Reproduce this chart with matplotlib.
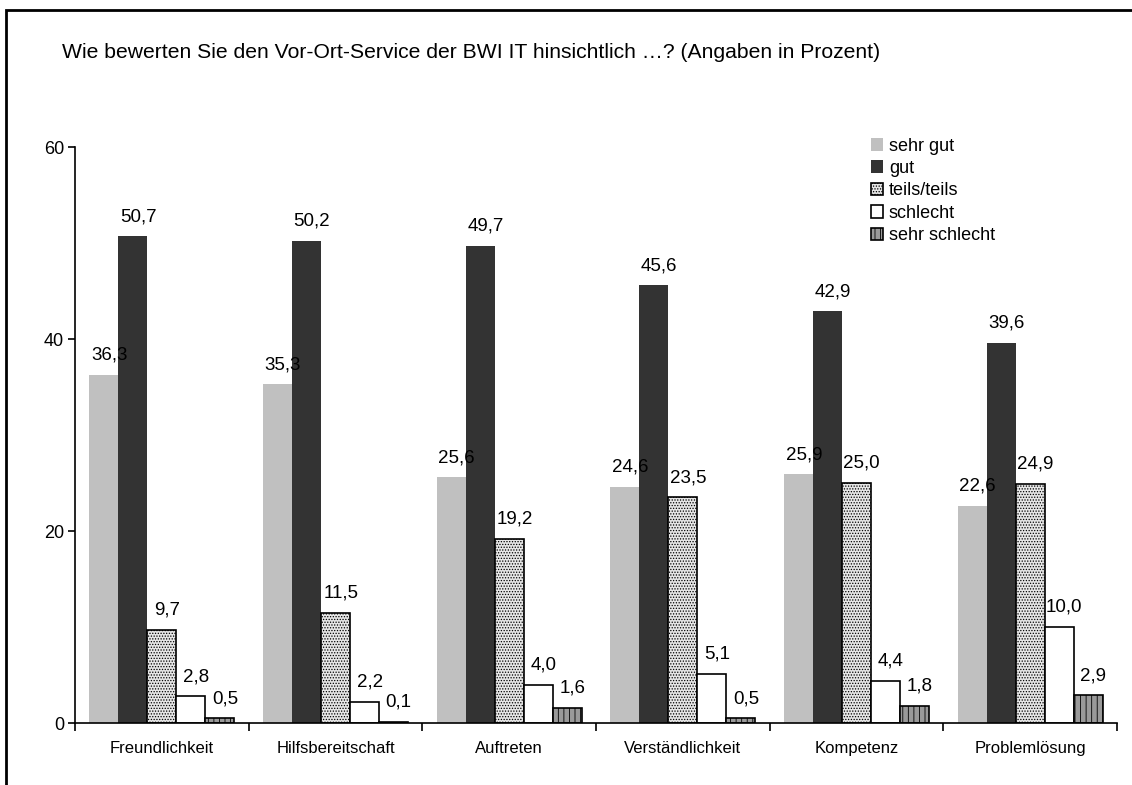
import matplotlib.pyplot as plt
import numpy as np
from matplotlib.patches import Rectangle

plt.rcParams['font.family'] = ['Liberation Sans', 'DejaVu Sans']
plt.rcParams['hatch.linewidth'] = 0.6

# Umfragewerte in Prozent
kategorien = ['Freundlichkeit', 'Hilfsbereitschaft', 'Auftreten',
              'Verständlichkeit', 'Kompetenz', 'Problemlösung']
sehr_gut = [36.3, 35.3, 25.6, 24.6, 25.9, 22.6]
gut = [50.7, 50.2, 49.7, 45.6, 42.9, 39.6]
teils = [9.7, 11.5, 19.2, 23.5, 25.0, 24.9]
schlecht = [2.8, 2.2, 4.0, 5.1, 4.4, 10.0]
sehr_schlecht = [0.5, 0.1, 1.6, 0.5, 1.8, 2.9]

reihen = [
    ('sehr gut', sehr_gut, dict(color='#c0c0c0', edgecolor='none')),
    ('gut', gut, dict(color='#333333', edgecolor='none')),
    ('teils/teils', teils, dict(facecolor='#e6e6e6', edgecolor='black', hatch='......', linewidth=1.2)),
    ('schlecht', schlecht, dict(facecolor='white', edgecolor='black', linewidth=1.2)),
    ('sehr schlecht', sehr_schlecht, dict(facecolor='#9a9a9a', edgecolor='black', hatch='|||', linewidth=1.2)),
]

fig = plt.figure(figsize=(11.32, 7.85), dpi=100)
ax = fig.add_axes([75 / 1132, 1 - 723 / 785, 1042 / 1132, 576 / 785])

x = np.arange(len(kategorien))
w = 1 / 6
for i, (name, werte, stil) in enumerate(reihen):
    bars = ax.bar(x + (i - 2) * w, werte, w, label=name, **stil)
    for b, v in zip(bars, werte):
        ax.annotate(f'{v:.1f}'.replace('.', ','),
                    (b.get_x() + b.get_width() / 2 + 0.03, b.get_height()),
                    xytext=(0, 8), textcoords='offset points',
                    ha='center', va='bottom', fontsize=13.5)

ax.set_xlim(-0.5, 5.5)
ax.set_ylim(0, 60)
ax.set_yticks([0, 20, 40, 60])
ax.set_xticks(np.arange(-0.5, 6, 1))
ax.set_xticklabels([])
ax.set_xticks(x, minor=True)
ax.set_xticklabels(kategorien, minor=True, fontsize=12)
ax.tick_params(axis='x', which='minor', length=0, pad=13)
ax.tick_params(axis='x', which='major', direction='out', length=6, width=1.2)
ax.tick_params(axis='y', direction='out', length=5, width=1.2, labelsize=13, pad=3)
ax.spines['top'].set_visible(False)
ax.spines['right'].set_visible(False)
ax.spines['left'].set_linewidth(1.2)
ax.spines['bottom'].set_linewidth(1.2)

ax.legend(loc='upper left', bbox_to_anchor=(0.755, 1.032), frameon=False,
          fontsize=13, handlelength=0.7, handleheight=0.7, handletextpad=0.3,
          labelspacing=0.3, borderpad=0)

fig.text(62 / 1132, 1 - 52 / 785,
         'Wie bewerten Sie den Vor-Ort-Service der BWI IT hinsichtlich …? (Angaben in Prozent)',
         fontsize=15.2, va='center', ha='left')

# Rahmen um die Grafik
fig.add_artist(Rectangle((6 / 1132, -0.1), 1.2, 1.1 - 10 / 785,
                         transform=fig.transFigure, fill=False,
                         linewidth=2, edgecolor='black', clip_on=False))

fig.savefig('out.png', dpi=100)
